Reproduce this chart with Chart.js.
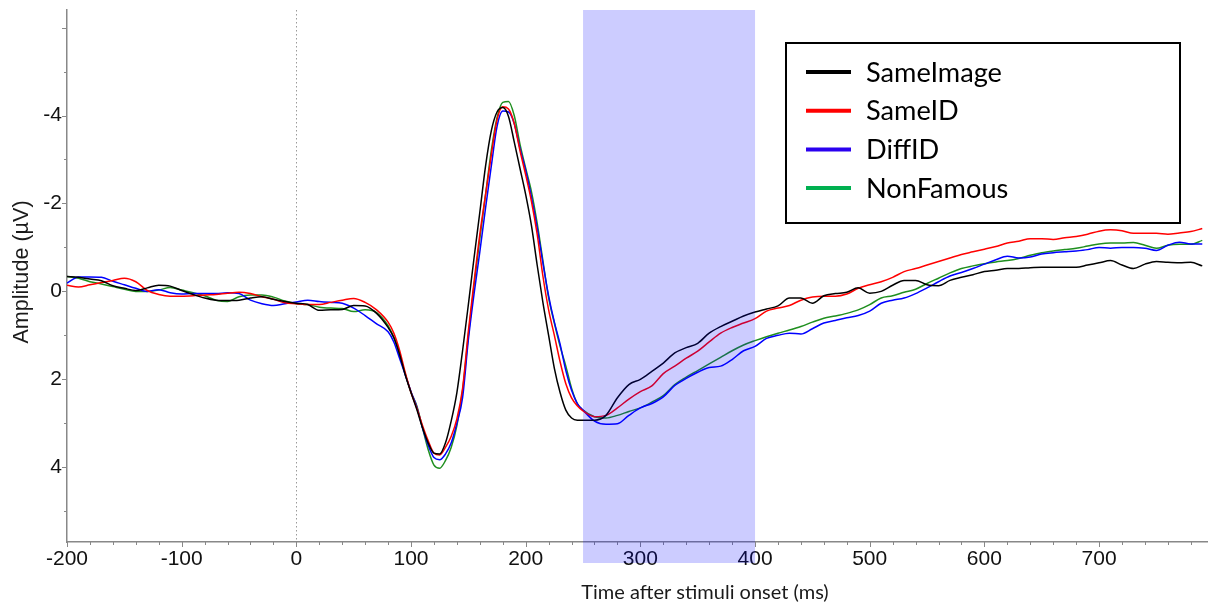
<!DOCTYPE html>
<html>
<head>
<meta charset="utf-8">
<title>ERP waveforms</title>
<script src="https://cdn.jsdelivr.net/npm/chart.js@4.4.1/dist/chart.umd.min.js"></script>
<style>
  html, body { margin: 0; padding: 0; background: #fff; }
  #wrap { width: 1208px; height: 608px; position: relative; }
</style>
</head>
<body>
<div id="wrap"><canvas id="erp"></canvas></div>
<script>
// time points (ms after stimulus onset)
const times = [
  -200,-190,-180,-170,-160,-150,-140,-130,-120,-110,-100,-90,-80,-70,-60,-50,-40,-30,-20,-10,0,
  10,20,30,40,50,60,70,80,
  85,90,95,100,105,110,115,120,125,130,135,140,145,150,155,160,165,170,175,180,
  185,190,195,200,205,210,215,220,225,230,235,240,245,250,
  260,270,280,290,300,310,320,330,340,350,360,370,380,390,400,410,420,430,440,450,
  460,470,480,490,500,510,520,530,540,550,560,570,580,590,600,610,620,630,640,650,
  660,670,680,690,700,710,720,730,740,750,760,770,780,790
];

// amplitudes in microvolts
const sameImage = [
  -0.34,-0.32,-0.28,-0.24,-0.13,-0.07,-0.02,-0.08,-0.14,-0.12,-0.02,0.07,0.15,0.2,0.21,0.2,0.15,0.12,0.18,0.23,0.27,
  0.3,0.43,0.42,0.41,0.32,0.33,0.5,0.82,
  1.05,1.43,1.9,2.3,2.68,3.1,3.45,3.68,3.7,3.45,2.95,2.3,1.34,0.3,-0.77,-1.8,-2.85,-3.65,-4.08,-4.18,
  -3.98,-3.4,-2.8,-2.2,-1.5,-0.6,0.25,1.0,1.75,2.3,2.7,2.88,2.93,2.93,
  2.93,2.82,2.42,2.12,2.0,1.82,1.63,1.4,1.28,1.18,0.95,0.8,0.68,0.56,0.47,0.4,0.33,0.15,0.15,0.27,
  0.1,0.05,0.02,-0.08,0.04,0.0,-0.14,-0.25,-0.25,-0.15,-0.13,-0.25,-0.32,-0.38,-0.45,-0.48,-0.52,-0.52,-0.54,-0.55,
  -0.55,-0.55,-0.55,-0.6,-0.65,-0.7,-0.6,-0.52,-0.62,-0.68,-0.66,-0.65,-0.66,-0.58
];
const sameID = [
  -0.14,-0.1,-0.15,-0.2,-0.25,-0.3,-0.22,-0.02,0.07,0.11,0.11,0.1,0.08,0.07,0.04,0.02,0.05,0.12,0.18,0.26,0.28,
  0.3,0.3,0.25,0.2,0.16,0.25,0.42,0.7,
  0.95,1.34,1.85,2.3,2.65,3.05,3.4,3.68,3.72,3.55,3.3,2.9,2.2,0.9,-0.22,-1.3,-2.2,-3.1,-3.9,-4.2,
  -4.15,-3.82,-3.2,-2.65,-2.05,-1.3,-0.35,0.42,1.0,1.6,2.1,2.42,2.6,2.72,
  2.85,2.82,2.65,2.45,2.28,2.15,1.87,1.7,1.52,1.36,1.15,0.95,0.82,0.72,0.62,0.45,0.38,0.32,0.2,0.13,
  0.11,0.11,0.06,-0.07,-0.15,-0.22,-0.32,-0.45,-0.52,-0.6,-0.68,-0.76,-0.84,-0.9,-0.96,-1.02,-1.1,-1.14,-1.2,-1.2,
  -1.18,-1.22,-1.25,-1.3,-1.37,-1.4,-1.38,-1.32,-1.32,-1.32,-1.3,-1.33,-1.36,-1.43
];
const diffID = [
  -0.19,-0.33,-0.33,-0.32,-0.23,-0.15,-0.07,0.0,-0.04,0.03,0.06,0.05,0.05,0.05,0.03,0.05,0.2,0.28,0.32,0.28,0.24,
  0.2,0.23,0.25,0.27,0.38,0.55,0.74,0.92,
  1.15,1.52,1.9,2.28,2.63,3.1,3.5,3.78,3.83,3.7,3.45,3.0,2.41,1.1,0.05,-0.9,-1.9,-2.85,-3.75,-4.1,
  -4.08,-3.82,-3.25,-2.75,-2.15,-1.45,-0.65,0.1,0.7,1.2,1.8,2.25,2.55,2.7,
  2.95,3.02,3.01,2.82,2.65,2.55,2.4,2.14,1.98,1.84,1.73,1.7,1.55,1.35,1.25,1.07,1.0,0.95,0.97,0.85,
  0.72,0.66,0.6,0.55,0.45,0.27,0.2,0.15,0.05,-0.08,-0.22,-0.35,-0.43,-0.52,-0.62,-0.72,-0.8,-0.76,-0.78,-0.85,
  -0.88,-0.9,-0.92,-0.95,-1.0,-0.98,-1.0,-1.0,-0.98,-0.93,-1.05,-1.12,-1.08,-1.08
];
const nonFamous = [
  -0.34,-0.3,-0.22,-0.17,-0.11,-0.05,0.0,0.0,-0.03,-0.09,-0.03,0.03,0.1,0.2,0.23,0.12,0.08,0.08,0.13,0.22,0.28,
  0.3,0.36,0.38,0.39,0.46,0.42,0.48,0.78,
  1.05,1.43,1.88,2.3,2.6,3.1,3.6,3.95,4.02,3.85,3.55,3.05,2.25,1.0,-0.15,-1.2,-2.2,-3.2,-3.95,-4.3,
  -4.32,-4.0,-3.35,-2.8,-2.27,-1.55,-0.7,0.15,0.72,1.25,1.7,2.2,2.55,2.7,
  2.85,2.88,2.82,2.73,2.65,2.52,2.37,2.12,1.95,1.8,1.65,1.5,1.35,1.22,1.12,1.03,0.95,0.88,0.8,0.7,
  0.61,0.56,0.5,0.42,0.3,0.15,0.1,0.02,-0.05,-0.18,-0.3,-0.42,-0.52,-0.58,-0.63,-0.67,-0.7,-0.75,-0.82,-0.88,
  -0.92,-0.95,-0.98,-1.03,-1.08,-1.1,-1.1,-1.11,-1.05,-0.98,-1.05,-1.07,-1.07,-1.16
];

// axis tick labels
const xTickValues = [-200, -100, 0, 100, 200, 300, 400, 500, 600, 700];
const yTickValues = [-4, -2, 0, 2, 4];

const seriesNames = ['SameImage', 'SameID', 'DiffID', 'NonFamous'];
const seriesData = [sameImage, sameID, diffID, nonFamous];
const lineColors = ['#000000', '#ff0000', '#0000ff', '#1f8f1f'];
const legendColors = ['#000000', '#ff0000', '#2a00f0', '#00b050'];

// analysis window (ms)
const windowStart = 250;
const windowEnd = 400;

const xTitle = 'Time after stimuli onset (ms)';
const yTitle = 'Amplitude (\u00b5V)';
const tickFont = '"Liberation Sans", Arial, sans-serif';
const textFont = 'Lato, "Open Sans", sans-serif';

function toPoints(values) {
  return values.map((v, i) => ({ x: times[i], y: v }));
}

// scale a font so a string spans a given pixel width
function fitSize(ctx, text, family, width) {
  ctx.font = '100px ' + family;
  return 100 * width / ctx.measureText(text).width;
}

const erpDecor = {
  id: 'erpDecor',
  beforeDatasetsDraw(chart) {
    const { ctx, chartArea, scales } = chart;
    const x0 = Math.round(scales.x.getPixelForValue(0)) + 0.5;
    ctx.save();
    ctx.strokeStyle = '#9a9a9a';
    ctx.lineWidth = 1;
    ctx.setLineDash([1.5, 2.5]);
    ctx.beginPath();
    ctx.moveTo(x0, chartArea.top);
    ctx.lineTo(x0, chartArea.bottom);
    ctx.stroke();
    ctx.restore();
  },
  afterDraw(chart) {
    const { ctx, chartArea, scales } = chart;
    const xs = scales.x, ys = scales.y;
    ctx.save();

    // tick marks, major and minor
    ctx.strokeStyle = '#888';
    ctx.lineWidth = 1;
    for (let t = xs.min; t <= xs.max; t += 20) {
      const px = Math.round(xs.getPixelForValue(t)) + 0.5;
      const len = t % 100 === 0 ? 5 : 3;
      ctx.beginPath();
      ctx.moveTo(px, chartArea.bottom);
      ctx.lineTo(px, chartArea.bottom + len);
      ctx.stroke();
    }
    for (let v = -6; v <= ys.max; v += 1) {
      const py = Math.round(ys.getPixelForValue(v)) + 0.5;
      const len = v % 2 === 0 ? 5 : 3;
      ctx.beginPath();
      ctx.moveTo(chartArea.left, py);
      ctx.lineTo(chartArea.left - len, py);
      ctx.stroke();
    }

    // shaded analysis window, laid over lines and tick labels
    const wx0 = xs.getPixelForValue(windowStart);
    const wx1 = xs.getPixelForValue(windowEnd);
    ctx.fillStyle = 'rgba(0, 0, 255, 0.2)';
    ctx.fillRect(wx0, chartArea.top, wx1 - wx0, chartArea.bottom - chartArea.top + 21);

    // axis titles
    ctx.fillStyle = '#1a1a1a';
    ctx.textAlign = 'center';
    ctx.textBaseline = 'middle';
    let size = fitSize(ctx, xTitle, textFont, 248);
    ctx.font = size.toFixed(1) + 'px ' + textFont;
    ctx.fillText(xTitle, 705, 593);

    size = fitSize(ctx, yTitle, tickFont, 143);
    ctx.font = size.toFixed(1) + 'px ' + tickFont;
    ctx.translate(22, 272);
    ctx.rotate(-Math.PI / 2);
    ctx.fillText(yTitle, 0, 0);
    ctx.setTransform(1, 0, 0, 1, 0, 0);

    // legend box
    const box = { left: 786, top: 43, width: 394, height: 180 };
    ctx.fillStyle = '#fff';
    ctx.fillRect(box.left, box.top, box.width, box.height);
    ctx.strokeStyle = '#000';
    ctx.lineWidth = 2;
    ctx.strokeRect(box.left, box.top, box.width, box.height);

    size = fitSize(ctx, seriesNames[0], textFont, 136);
    ctx.font = size.toFixed(1) + 'px ' + textFont;
    ctx.textAlign = 'left';
    ctx.textBaseline = 'middle';
    seriesNames.forEach((name, i) => {
      const cy = 72 + i * 38.7;
      ctx.strokeStyle = legendColors[i];
      ctx.lineWidth = 4;
      ctx.beginPath();
      ctx.moveTo(806, cy);
      ctx.lineTo(851, cy);
      ctx.stroke();
      ctx.fillStyle = '#000';
      ctx.fillText(name, 866, cy + 1);
    });

    ctx.restore();
  }
};

const chart = new Chart(document.getElementById('erp'), {
  type: 'line',
  data: {
    datasets: seriesNames.map((name, i) => ({
      label: name,
      data: toPoints(seriesData[i]),
      borderColor: lineColors[i],
      borderWidth: 1.5,
      pointRadius: 0,
      fill: false,
      cubicInterpolationMode: 'monotone'
    }))
  },
  options: {
    responsive: true,
    maintainAspectRatio: false,
    animation: false,
    devicePixelRatio: 1,
    layout: { padding: { top: 10, right: 0, bottom: 0, left: 0 } },
    plugins: {
      legend: { display: false },
      tooltip: { enabled: false }
    },
    scales: {
      x: {
        type: 'linear',
        min: -200,
        max: 795,
        grid: { display: false, drawTicks: false },
        border: { display: true, color: '#888', width: 1.5 },
        ticks: {
          autoSkip: false,
          maxRotation: 0,
          padding: 5,
          color: '#111',
          font: { family: tickFont, size: 21 },
          callback: v => String(v)
        },
        afterBuildTicks(scale) { scale.ticks = xTickValues.map(v => ({ value: v })); },
        afterFit(scale) {
          scale.height = 66;
          scale.paddingLeft = 0;
          scale.paddingRight = 0;
        }
      },
      y: {
        reverse: true,
        min: -6.4,
        max: 5.7,
        grid: { display: false, drawTicks: false },
        border: { display: true, color: '#888', width: 1.5 },
        ticks: {
          padding: 5,
          color: '#111',
          font: { family: tickFont, size: 21 },
          callback: v => String(v)
        },
        afterBuildTicks(scale) { scale.ticks = yTickValues.map(v => ({ value: v })); },
        afterFit(scale) {
          scale.width = 67;
          scale.paddingTop = 0;
          scale.paddingBottom = 0;
        }
      }
    }
  },
  plugins: [erpDecor]
});
</script>
</body>
</html>
